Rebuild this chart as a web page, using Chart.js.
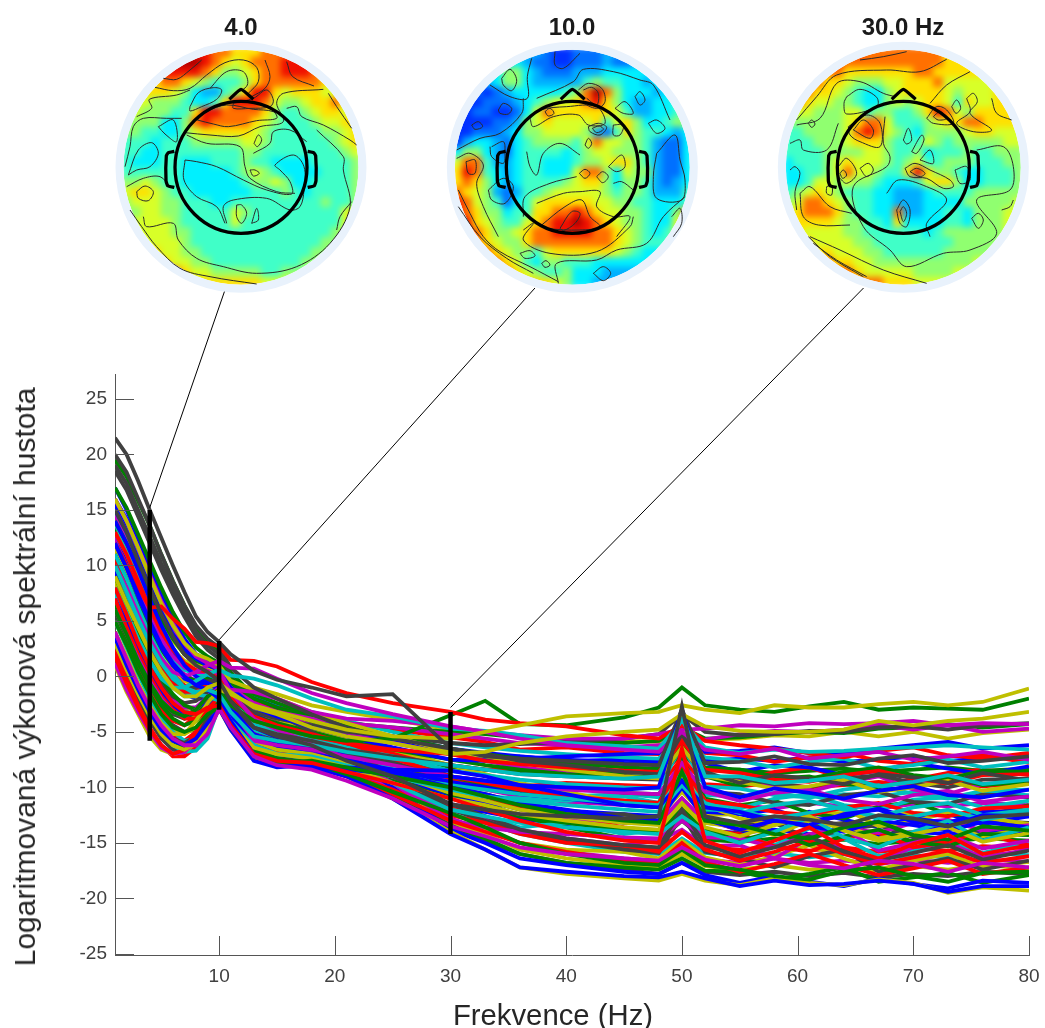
<!DOCTYPE html>
<html>
<head>
<meta charset="utf-8">
<title>Spektrum</title>
<script src="https://cdn.jsdelivr.net/npm/chart.js@4/dist/chart.umd.min.js"></script>
<style>
  html, body { margin: 0; padding: 0; background: #fff; }
  #page { position: relative; width: 1045px; height: 1028px; overflow: hidden; font-family: "Liberation Sans", Arial, sans-serif; }
  #mainChart { position: absolute; left: 0; top: 0; }
  .topo { position: absolute; top: 10px; width: 265px; height: 290px; }
  .topo canvas { position: absolute; left: 0; top: 0; }
  .heat { position: absolute; left: 0; top: 0; width: 265px; height: 290px; }
  .heat canvas { filter: blur(3px); }
  .mapTitle { position: absolute; top: 13px; width: 160px; text-align: center; font-weight: bold; font-size: 24px; line-height: 28px; color: #1a1a1a; }
  #xTitle { position: absolute; left: 353px; top: 998px; width: 400px; text-align: center; font-size: 29.3px; line-height: 34px; color: #262626; }
  #yTitle { position: absolute; left: 25px; top: 677px; white-space: nowrap; font-size: 30px; color: #262626; transform: translate(-50%, -50%) rotate(-90deg); }
</style>
</head>
<body>
<div id="page">
  <canvas id="mainChart" width="1045" height="1028"></canvas>
  <div class="mapTitle" style="left:161px">4.0</div>
  <div class="mapTitle" style="left:492px">10.0</div>
  <div class="mapTitle" style="left:823px">30.0 Hz</div>
  <div id="xTitle">Frekvence (Hz)</div>
  <div id="yTitle">Logaritmovaná výkonová spektrální hustota</div>
</div>
<script>
/* DATA */
const xTickValues = [10, 20, 30, 40, 50, 60, 70, 80];
const yTickValues = [-25, -20, -15, -10, -5, 0, 5, 10, 15, 20, 25];
const freqs = [1,2,3,4,5,6,7,8,9,10,11,13,15,18,21,25,30,33,36,40,45,48,50,52,55,58,61,64,67,70,73,76,80];

const s01 = [13,10.8,8.2,5.8,3.6,2,0.8,0.2,0,-0.5,-2.2,-4.6,-5.5,-6.4,-7.4,-8.6,-11,-11.4,-11.8,-12.1,-12.4,-12.6,-9.6,-12.2,-12.4,-13.2,-12.2,-12.9,-13.6,-12.7,-12.4,-13.3,-12.6];
const s02 = [19.5,18,15.8,13.6,11,8.6,6.4,4.4,3,2.2,0.4,-1.8,-2.8,-4.2,-5.4,-6.9,-9,-9.8,-10.4,-11,-11.2,-11.4,-7.5,-11,-11.6,-11.2,-12.3,-12.8,-11.7,-11.3,-12.4,-12.6,-11.6];
const s03 = [5,2.8,0.4,-1.6,-3,-4,-4.4,-3.6,-2.2,-1.4,-2.6,-4.4,-4.8,-5.4,-6.2,-6.9,-8,-8.4,-8.2,-8.8,-9,-9.1,-7,-8.9,-9.4,-8.6,-8.2,-9.2,-9.8,-9.3,-8.7,-8.4,-8.9];
const s04 = [10,7.8,5.2,3,1,-0.4,-1.4,-1.8,-1.6,-1.8,-3.6,-5.8,-6.4,-7,-8,-9.4,-12,-12.6,-13.6,-13.2,-14.2,-13.8,-12.5,-14.2,-14.4,-15.2,-13.7,-14.6,-16.2,-15.6,-14.8,-15.9,-15];
const s05 = [15,13,10.8,8.4,6,4,2.6,1.8,1.4,0.9,-0.6,-2.6,-3.4,-4.4,-5.2,-6,-7,-7.6,-8.2,-8.6,-9,-9.2,-6.2,-9,-9.2,-9.9,-10.4,-9.6,-9,-10.2,-10.6,-9.7,-9.4];
const s06 = [7,4.6,2.2,0,-1.8,-3,-3.6,-3.4,-2.4,-1.9,-3.6,-6,-6.8,-7.2,-8.2,-10,-13,-13.8,-15,-15.6,-15.8,-16.4,-14.8,-16.3,-17,-16.2,-15.2,-16.4,-17.4,-16.6,-16,-17.2,-16.7];
const s07 = [18.5,16.8,14.4,12,9.6,7.4,5.4,3.6,2.4,1.6,-0.4,-2.8,-3.6,-4.8,-6,-7.6,-10,-10.6,-11.4,-12.4,-12.4,-13,-9,-12.8,-13.9,-13.2,-14.6,-13.8,-13.4,-14.5,-14.9,-13.7,-13.5];
const s08 = [16,14.2,12,9.6,7.2,5,3.2,2,1.5,1,-0.4,-1.8,-2.6,-3.8,-4.6,-5.4,-6.5,-6.9,-7.2,-7.5,-7.8,-7.9,-5.6,-7.8,-8.6,-8,-8.2,-8.9,-8.5,-7.8,-8.3,-8.8,-8.1];
const s09 = [3,0.6,-1.6,-3.6,-5,-6,-6.4,-5.8,-4.4,-2.9,-4.6,-7.2,-7.9,-7.8,-9,-10.8,-13.5,-14.6,-16,-16.8,-17.2,-17.4,-16.4,-17.5,-17.6,-18.3,-17.8,-17.2,-18.5,-18.1,-17.7,-18.6,-17.9];
const s10 = [9,7,4.6,2.6,0.8,-0.6,-1.4,-1.4,-0.6,-0.2,-1,-2.2,-2.8,-3.6,-4.2,-4.8,-5.5,-5.9,-6.6,-6.4,-6.9,-7,-5,-6.9,-7.1,-7.7,-7.3,-6.9,-7.6,-7.9,-7.2,-7.1,-7.8];
const s11 = [12,9.8,7.4,5,3,1.6,0.6,0.2,0.2,-0.3,-2,-4.2,-5,-5.8,-7,-8.4,-10.5,-10.8,-11,-11.2,-10.8,-11.4,-8.4,-11.2,-11.9,-11,-10.6,-11.6,-12,-11.1,-10.9,-11.8,-11.2];
const s12 = [2,-0.6,-2.8,-4.8,-6.2,-7,-7,-6.4,-4.8,-3,-4.4,-6.6,-7.4,-7.6,-8.6,-10,-12,-12.8,-13.8,-14.6,-15.2,-14.8,-13.8,-15.3,-15.2,-16.4,-14.6,-15.5,-16.6,-15.4,-15,-16.3,-15.6];
const s13 = [14,12,9.6,7.2,5,3.2,2,1.2,0.9,0.4,-1.2,-3,-3.8,-5,-5.6,-6.6,-8,-8.8,-9.6,-10.4,-11.4,-11.8,-9,-11.6,-12.8,-13.4,-12.4,-11.9,-13.5,-13.1,-12.2,-12.7,-13.3];
const s14 = [6,3.6,1.4,-0.6,-2.2,-3.4,-3.8,-3.2,-2,-1.5,-3.2,-5.2,-5.8,-6.4,-7,-7.8,-9,-9.4,-10.2,-9.8,-10.5,-10.6,-8,-10.4,-10.6,-11.4,-11.6,-10.7,-10.4,-11.3,-11.5,-10.6,-10.9];
const s15 = [17,15,12.6,10.2,7.6,5.4,3.4,2,1.4,0.8,-1,-3.4,-4.4,-5.6,-7.2,-10,-13.8,-15,-16.4,-17,-17.6,-17.8,-16.8,-17.9,-18.6,-18,-18.5,-18.9,-18.2,-18.7,-19.1,-18.4,-18.6];
const s16 = [11,8.8,6.4,4.2,2.4,1,0,-0.4,-0.2,-0.6,-2,-3.6,-4.2,-5,-5.8,-6.6,-7.5,-8,-8.4,-8.8,-9,-9.1,-6.8,-9,-9.9,-9.2,-9,-9.7,-10,-9.4,-9.1,-9.8,-9.5];
const s17 = [4,1.6,-0.8,-2.8,-4.4,-5.4,-5.8,-5,-3.4,-2.2,-4,-6.2,-6.8,-7,-7.8,-8.8,-10,-10.8,-11.8,-12.6,-13.6,-14,-11.4,-13.8,-14.2,-15.3,-15.8,-14.6,-14.1,-15.4,-14.9,-14.2,-15.2];
const s18 = [15,13,10.6,8.2,5.8,3.8,2.2,1.4,1,0.7,-0.6,-1.6,-2.4,-3.2,-4,-5,-6,-6.4,-6.7,-7,-7.3,-7.4,-5.6,-7.3,-7.6,-8.2,-7.7,-7.4,-8.3,-8,-7.5,-8.2,-7.7];
const s19 = [8,5.6,3.2,1.2,-0.6,-2,-2.8,-2.8,-1.8,-1.2,-3,-5.2,-6,-6.8,-7.6,-9.2,-11.5,-12,-12.4,-12.8,-13.1,-13.2,-11,-13,-13.8,-13,-12.6,-13.6,-14.1,-13.2,-12.9,-13.9,-13.4];
const s20 = [13,11,8.6,6.2,4,2.4,1.4,1,0.9,0.6,-0.8,-1,-1.6,-2.6,-3.2,-3.9,-4.8,-5,-5.4,-5.6,-5.8,-5.9,-5,-5.7,-5.6,-5.3,-5.4,-5,-5.4,-5,-5.6,-5.1,-4.8];
const s21 = [19,17.4,15,12.6,10.2,8,5.8,4,2.8,2,0,-2.4,-3.4,-5,-6.6,-8.8,-12,-13,-14,-14.8,-15.6,-15.9,-12.5,-15.8,-16.4,-17.2,-16.2,-15.6,-17.6,-17,-16.4,-17.4,-16.6];
const s22 = [7,4.8,2.4,0.4,-1.4,-2.6,-3.4,-3.2,-2.4,-2,-3.8,-5.8,-6.4,-7,-7.6,-8.4,-9.5,-10,-10.6,-11,-11.6,-11.8,-9.6,-11.7,-12.4,-12,-13,-12.6,-11.9,-12.8,-13.2,-12.2,-12.1];
const s23 = [14,12,9.8,7.4,5.2,3.4,2,1.4,1,0.6,-0.6,-2,-2.8,-3.6,-4.2,-4.6,-5,-5.2,-5.5,-5.8,-6,-5.8,-4.6,-5.6,-5.5,-5.2,-5,-5.1,-4.7,-4.6,-4.3,-4.6,-4.3];
const s24 = [2.4,-0.2,-2.6,-4.6,-6.2,-7.2,-7.2,-6.4,-4.8,-2.8,-4.4,-7,-7.6,-7.8,-8.8,-10.2,-12.5,-13.2,-14.2,-15,-15.2,-15.8,-14,-15.6,-16.6,-15.8,-14.8,-16,-16.9,-16.3,-15.7,-16.8,-16.2];
const s25 = [9,6.8,4.4,2.2,0.4,-1,-1.8,-1.8,-1.2,-1.4,-2.8,-4.4,-5,-5.6,-6.4,-7.2,-8.5,-8.9,-9.3,-9.7,-10,-10.1,-6.2,-9.9,-10.1,-10.7,-10.9,-10.2,-9.8,-10.6,-11,-10.3,-10.2];
const s26 = [12,10,7.6,5.4,3.4,1.8,0.8,0.4,0.4,0.2,-1,-2.4,-3.2,-3.8,-4.2,-4.6,-5.2,-5.6,-6,-6.2,-6.4,-6.2,-5.6,-5.7,-5.2,-4.9,-5,-4.8,-4.4,-4.8,-4.4,-5,-4.7];
const s27 = [5,2.6,0.2,-1.8,-3.6,-4.8,-5.2,-4.6,-3.2,-2.4,-3.8,-5.8,-6.6,-7,-7.8,-8.8,-10.5,-11.2,-12,-12.6,-13.2,-13.4,-11.8,-13.2,-13.6,-14.3,-13,-13.4,-14.6,-14,-13.5,-14.4,-13.7];
const s28 = [10,7.8,5.4,3.2,1.2,-0.2,-1,-1,-0.4,-0.4,-1.8,-3.2,-3.8,-4.4,-5,-5.4,-6,-6.2,-6.1,-5.9,-5.6,-5.2,-3.4,-5,-5.3,-5.2,-4.9,-5,-4.6,-4.5,-4.8,-4.4,-4.2];
const s29 = [15,13,10.6,8.2,5.8,3.8,2.4,1.6,1,0.6,-1,-2.8,-3.6,-4.6,-5.4,-6.4,-7.5,-7.6,-7.4,-7.2,-7,-6.9,-4,-6.8,-6.7,-6.4,-6.9,-7,-6.5,-6.2,-5.9,-6.5,-6.2];
const s30 = [6,3.6,1.2,-0.8,-2.6,-3.8,-4.4,-4,-2.8,-2.3,-4,-6.4,-7.2,-7.4,-8.2,-9.4,-11,-11.8,-12.6,-13.2,-13.8,-14,-12,-13.8,-14.8,-14,-15.2,-14.4,-13.8,-14.9,-15.3,-14.2,-14.3];
const s31 = [13,11,8.6,6.2,4,2.4,1.2,0.6,0.4,-0.2,-1.8,-3.6,-4.4,-5.2,-6,-7.4,-9,-9.6,-10.2,-10.8,-11.2,-11.4,-8,-11.2,-11.6,-12.2,-12.5,-11.8,-11.4,-12.3,-12.6,-11.9,-11.7];
const s32 = [3,0.8,-1.4,-3.4,-5,-6.2,-6.8,-6.7,-5.6,-2.7,-4.6,-6.8,-7.6,-7.6,-8.2,-9,-9.8,-10.2,-10.6,-11,-11.4,-11.6,-9.4,-11.4,-12.3,-11.6,-11.2,-12,-12.6,-11.8,-11.4,-12.5,-12];
const s33 = [16,14,11.6,9.2,6.8,4.8,3,1.8,1.2,0.6,-1.4,-3.8,-4.8,-6,-7.4,-9.6,-13,-13.6,-14,-14.2,-14.5,-14.6,-13,-14.5,-14.6,-15.4,-14.2,-13.7,-15.7,-15,-14.3,-15.5,-14.8];
const s34 = [1,-1.4,-3.4,-5.4,-6.6,-7,-6.8,-6,-4.6,-2.9,-4.8,-7.4,-8,-7.9,-9,-11,-14,-15.6,-17.2,-17.8,-18.2,-18.4,-17.8,-18.4,-18.8,-18.2,-18.6,-18.8,-18.3,-18.6,-19.5,-19,-19.3];
const s35 = [8,5.6,3.2,1.2,-0.6,-1.8,-2.4,-2.2,-1.4,-1.2,-2.8,-4.6,-5.2,-5.8,-6.6,-7.2,-8,-8.4,-8.8,-9,-9.2,-9.3,-6.4,-9.1,-9.1,-9.7,-10,-9.2,-8.9,-9.6,-10,-9.3,-9.2];
const s36 = [12,9.8,7.2,4.8,2.6,1,-0.2,-0.6,-0.6,-1,-2.8,-5.2,-6,-6.6,-7.4,-8.6,-10,-10.6,-11.4,-12,-12.8,-13,-10,-12.9,-13.8,-13,-13.5,-14,-13,-13.4,-13.9,-13.1,-13.6];
const s37 = [17,15.2,12.8,10.4,8,5.8,4,2.6,1.8,1.2,-0.2,-1.6,-2.4,-3.4,-4.4,-5.4,-6.5,-7,-7.4,-7.8,-8.2,-8.3,-6,-8.2,-8.4,-9,-9.2,-8.6,-8.2,-8.9,-9.2,-8.5,-8.6];
const s38 = [7,4.4,2,0,-1.8,-3,-3.8,-3.8,-3,-2.7,-4.6,-7.2,-7.9,-8,-9,-10.6,-13,-14,-15,-15.8,-16.6,-16.8,-15,-16.7,-17.6,-16.9,-16,-17,-17.9,-17.3,-16.6,-17.8,-17.2];
const s39 = [5,2.6,0.2,-2,-3.8,-5,-5.8,-5.6,-4.4,-2.6,-4.2,-6.2,-7,-7.2,-8,-9,-10.2,-10.8,-11.2,-11.6,-12,-12.2,-9.8,-12,-12.1,-12.8,-12.3,-11.7,-12.9,-12.6,-12,-12.9,-12.3];
const s40 = [1.2,-1.2,-3.2,-5,-6.4,-7,-6.8,-5.8,-4.2,-2.6,-3.8,-5.8,-6.2,-6.6,-7.2,-8,-9,-9.4,-9.8,-10.2,-10.5,-10.6,-7.8,-10.4,-11.2,-10.5,-10.2,-11.1,-11.5,-10.7,-10.3,-11.3,-10.8];
const s41 = [16,14,11.6,9,6.6,4.6,3,2,1.6,1,-0.4,-1.2,-2,-3.2,-4.2,-5.4,-6.8,-7.2,-7.8,-8.4,-9,-9.2,-6.4,-9,-9.5,-10.1,-9.9,-9.3,-10.4,-10,-9.4,-10.3,-9.7];
const s42 = [4,1.4,-1,-3,-4.6,-5.6,-6,-5.4,-3.8,-2.5,-4.2,-6.8,-7.4,-7.6,-8.4,-9.6,-11.5,-12.6,-13.8,-14.6,-15.2,-15.4,-12,-15.2,-16.2,-15.4,-14.4,-15.8,-16.6,-15.9,-15.2,-16.5,-15.7];
const s43 = [14,12,9.6,7,4.6,2.6,1,0,-0.6,-1.2,-3.4,-6.4,-7.6,-8.2,-9,-11,-14.2,-15.6,-17.2,-17.6,-18,-18.1,-17.6,-18.2,-18.9,-18.4,-18.8,-18.7,-18.4,-18.7,-19.4,-18.9,-18.9];
const s44 = [9,6.6,4,1.8,-0.2,-1.6,-2.6,-3,-2.8,-2.6,-4.4,-6.6,-7.4,-7.8,-8.8,-10.4,-12.3,-13.6,-15,-16,-16.8,-17,-15.6,-17,-17.4,-18,-18.3,-17.5,-17.2,-18,-18.5,-17.7,-17.6];
const s45 = [1.8,-0.6,-2.8,-4.8,-6.2,-7,-6.6,-5,-3,-1.8,-2.6,-4,-4.6,-5.4,-6,-6.6,-7,-7.6,-7.9,-8.2,-8.5,-8.6,-5.8,-8.4,-8.7,-9.3,-9.5,-8.9,-8.5,-9.2,-9.6,-8.9,-8.8];
const s46 = [11,8.8,6.2,3.8,1.8,0.2,-1,-1.6,-1.8,-2.2,-4,-6.2,-7,-7.4,-8.2,-9.6,-12,-12.6,-13.2,-13.6,-14,-14.2,-12.6,-14,-15,-14,-12.7,-14.5,-15.4,-14,-13,-14.8,-13.6];
const s47 = [6,3.8,1.6,-0.4,-2,-3.2,-3.6,-3,-1.8,-1,-1.2,-1.4,-2,-3.2,-3.8,-4,-4.5,-5,-5.3,-5.6,-5.6,-5.2,-4.8,-4.7,-4.4,-4.5,-4.2,-4.3,-4.2,-4,-4.4,-4.2,-4.3];
const s48 = [3,0.6,-1.6,-3.6,-5.2,-6.2,-6.6,-6,-4.4,-2.8,-4.2,-6.4,-7,-7.4,-8.2,-9.6,-11,-11.6,-12.4,-13,-13.6,-13.8,-11.4,-13.6,-14.4,-13.4,-12.6,-13.9,-14.8,-14.2,-13.6,-14.9,-14.1];
const s49 = [20,18.4,16,13.6,11,8.6,6.4,4.6,3.4,2.6,0.8,-1,-2,-3.4,-4.6,-5.6,-6.5,-7,-7.6,-8,-8.6,-8.8,-5.2,-8.6,-9.6,-8.9,-9.2,-9.7,-8.8,-9.1,-9.6,-8.7,-9.4];
const s50 = [3.5,1,-1.2,-3.2,-4.8,-5.8,-6.2,-5.6,-4.2,-2.9,-4.8,-7.6,-8.2,-8,-8.2,-8.4,-8.5,-9,-9.8,-10.6,-11.6,-11.8,-9.4,-11.8,-12.2,-13,-13.4,-12.4,-12,-13.1,-13.5,-12.5,-12.6];
const s51 = [6,3.8,1.4,-0.6,-2.2,-3.2,-3.6,-3,-1.8,-1.2,-2.6,-4,-4.6,-5.4,-5.8,-5.6,-3.5,-2.2,-4.3,-4.4,-3.7,-2.8,-1,-2.6,-3,-3.2,-2.7,-2.3,-3,-2.8,-2.9,-3,-2];
const s52 = [12,10,8,6.2,6.3,5.2,4.3,3.1,3,2.7,1.5,1.4,0.9,-0.5,-1.5,-2.4,-3.2,-3.9,-4.2,-4.5,-5.3,-5.6,-4.4,-5.8,-6.2,-6.5,-6.9,-7.3,-6.7,-6.4,-7.1,-7.4,-6.9];
const s53 = [8,5.8,3.4,1.4,-0.2,-1,-1,-0.4,0.2,0.6,0.1,-0.2,-0.8,-2,-3,-3.6,-4.7,-4.9,-5.3,-6,-6.3,-6.5,-4,-6.4,-6.9,-6.6,-6.8,-6.7,-6.5,-6.4,-6.2,-6.4,-6.6];
const s54 = [10,8,5.6,3.4,1.6,0.4,0,0.4,1,1.4,0.8,0.7,-0.2,-1.5,-2.4,-3.4,-4.5,-5,-5.6,-6.2,-6.6,-6.8,-5,-6.6,-7,-6.5,-7.4,-7.1,-6.8,-7.5,-7.2,-6.8,-7.5];
const s55 = [4,1.8,-0.6,-2.6,-4.2,-5.2,-5.2,-4,-2.4,-1.2,-1.6,-2.6,-3.2,-4,-4.8,-5.4,-5.6,-5,-4.4,-3.6,-3.3,-3.2,-2.6,-3,-3.3,-2.6,-2.8,-2.8,-2.5,-2.3,-2.6,-2.3,-1.1];
const s56 = [21.5,20,17.6,15,12.5,10,7.6,5.4,4,3.1,2,0.5,-0.3,-1,-1.8,-1.6,-6.5,-7.2,-7.4,-7.6,-7.9,-8,-3,-7.8,-7.7,-7.2,-7.9,-8,-7.4,-7.1,-7.8,-7.6,-7.2];
const s57 = [12,9.8,7.4,5,2.8,1.2,0,-0.8,-1.2,-2,-4,-7,-7.8,-8.2,-8.4,-8.8,-9,-9.4,-9.8,-10,-10.2,-10,-3,-10,-10.9,-10.1,-10.5,-11,-10.3,-9.9,-10.7,-10.9,-10.2];
const s58 = [5,2.8,0.4,-1.6,-3.4,-4.6,-5,-4.6,-3.4,-2.8,-4.6,-7.2,-7.8,-7.6,-8.2,-9,-10,-10.8,-11.6,-12.4,-13,-13.2,-8.6,-13,-13.4,-14.2,-14.6,-13.6,-13.1,-14.3,-14.7,-13.5,-13.9];
const s59 = [8,5.6,3,0.8,-1,-2.4,-3.2,-3.4,-2.8,-2.6,-4.4,-7,-7.6,-7.8,-8.6,-9.6,-11,-12,-13,-14,-14.8,-15,-6.5,-14.8,-15.9,-14.8,-13.6,-15.4,-16.4,-15.1,-14.3,-16,-15.2];
const s60 = [10,7.6,5.2,3,1.2,-0.2,-1,-1.4,-1.2,-1.6,-3.2,-5.4,-5.8,-6.2,-6.8,-7.4,-8,-8.4,-8.8,-9,-9.2,-9,-3.6,-9,-9,-9.6,-9.4,-9,-9.9,-9.5,-8.9,-9.7,-9.3];
const s61 = [4,1.6,-0.8,-2.8,-4.4,-5.6,-6.2,-6.2,-5.2,-2.9,-4.6,-7.2,-8,-8.4,-9.4,-11,-13.5,-14.4,-15.4,-16,-16.4,-16.6,-15.4,-16.5,-17.1,-16.4,-17,-17.3,-16.6,-16.9,-17.6,-16.8,-17.2];
const s62 = [9,6.6,4.4,2.2,0.4,-1,-1.8,-1.8,-1,-0.6,-1.4,-2.8,-3.4,-4.6,-5.4,-6,-7,-6.8,-6,-5.4,-5,-4.8,-3.4,-4.5,-4.9,-5,-5,-4.8,-4,-4.4,-4,-3.8,-3.2];
const s63 = [15,13,10.4,8,5.6,3.6,2,1,0.4,-0.4,-2.2,-4.6,-5.4,-6.2,-7.6,-9,-11.5,-12,-12.4,-12.6,-12.8,-12.6,-2.7,-12.6,-13.2,-12.6,-12.9,-13.4,-12.5,-12.8,-13.5,-12.7,-12.4];
// quieter channels, drawn first
const s64 = [15.5,13.4,11,8.8,6.4,4.4,2.8,1.6,1.2,0.8,-0.8,-2.2,-3,-4.2,-5,-5.8,-7,-7.3,-7.2,-7.6,-7.5,-7.7,-6,-7.6,-7.4,-7.6,-7.3,-7.7,-7.5,-7.2,-7.6,-7.4,-7.3];
const s65 = [13.2,11,8.4,6,3.8,2.2,1,0.4,0.2,0,-1.6,-3.2,-4,-4.8,-5.6,-6.8,-8.2,-8.4,-8.6,-8.4,-8.7,-8.6,-6.6,-8.5,-8.4,-8.7,-8.5,-8.3,-8.6,-8.4,-8.2,-8.5,-8.3];
const s66 = [10.5,8.2,5.8,3.6,1.6,0.2,-0.8,-1.2,-1.2,-1.4,-3,-4.8,-5.4,-6,-6.8,-7.8,-9.4,-9.6,-9.9,-9.6,-9.8,-9.9,-7.4,-9.7,-9.9,-9.6,-10,-9.8,-9.5,-9.8,-9.6,-9.9,-9.6];
const s67 = [7.5,5,2.6,0.6,-1.2,-2.4,-3,-2.8,-2,-1.6,-3.4,-5.4,-6,-6.6,-7.2,-8.2,-9.8,-10.1,-10.5,-10.8,-10.6,-10.9,-9,-10.7,-10.8,-10.5,-10.9,-10.6,-10.8,-10.4,-10.8,-10.5,-10.7];
const s68 = [14.5,12.4,10,7.6,5.4,3.4,2,1,0.6,0.2,-1.4,-3.4,-4.2,-5,-6,-7.2,-9.6,-10.2,-10.8,-11.3,-11.6,-11.7,-9.8,-11.5,-11.6,-11.9,-11.4,-11.7,-11.9,-11.5,-11.7,-11.4,-11.6];
const s69 = [11.5,9.2,6.8,4.6,2.4,0.8,-0.4,-0.8,-0.8,-1.2,-2.8,-5,-5.8,-6.6,-7.4,-8.8,-10.8,-11.2,-11.8,-12.2,-12.5,-12.6,-10.4,-12.5,-12.4,-12.7,-12.5,-12.3,-12.6,-12.3,-12.5,-12.2,-12.4];
const s70 = [2.8,0.2,-2,-4,-5.6,-6.6,-6.8,-6.2,-4.6,-2.6,-4,-6,-6.8,-7.2,-7.8,-9,-10.6,-11.2,-12,-12.6,-13.2,-13.2,-11,-13.2,-13.4,-13.1,-13.5,-13.2,-13.4,-13.1,-13.3,-13,-13.2];
const s71 = [9.5,7.2,4.8,2.6,0.6,-0.8,-1.6,-2,-2,-2.2,-4,-6,-6.8,-7.4,-8.2,-9.8,-11.8,-12.2,-12.8,-13.4,-13.8,-14,-12,-13.9,-14.1,-13.8,-14.2,-13.9,-14.3,-14,-14.2,-13.9,-14.1];
const s72 = [6.5,4,1.8,-0.2,-2,-3.2,-3.8,-3.6,-2.6,-2.1,-3.8,-6,-6.8,-7.2,-8,-9,-10.8,-11.4,-12.6,-13.6,-14.6,-14.8,-13,-14.7,-14.9,-14.6,-15,-14.7,-15.1,-14.8,-14.9,-14.6,-14.8];
const s73 = [3.8,1.2,-1,-3,-4.8,-5.8,-6,-5.2,-3.6,-2.4,-4,-6.4,-7.2,-7.4,-8.4,-9.8,-11.8,-12.8,-14,-14.8,-15.4,-15.6,-14,-15.4,-15.6,-15.3,-15.7,-15.4,-15.8,-15.5,-15.7,-15.3,-15.5];
const s74 = [13.8,11.6,9.2,6.8,4.4,2.6,1.2,0.4,0,-0.6,-2.4,-4.8,-5.8,-6.6,-7.8,-9.6,-12.4,-13.2,-14.2,-15,-15.8,-16,-14.6,-15.9,-16.2,-15.9,-16.3,-16,-16.4,-16.1,-16.3,-15.9,-16.1];
const s75 = [12.5,10.2,7.8,5.2,3,1.4,0.2,-0.4,-0.6,-1,-2.8,-5.4,-6.4,-7,-8.2,-10,-12.8,-13.8,-15,-15.8,-16.4,-16.6,-15.4,-16.5,-16.8,-16.4,-16.8,-16.6,-16.9,-16.5,-16.8,-16.5,-16.7];
const s76 = [8.5,6,3.6,1.4,-0.4,-1.8,-2.8,-3,-2.6,-2.4,-4.2,-6.6,-7.4,-7.6,-8.6,-10.2,-13.2,-14.2,-15.6,-16.4,-17,-17.2,-16,-17.1,-17.4,-17,-17.4,-17.2,-17.5,-17.1,-17.4,-17,-17.3];
const s77 = [5.5,3,0.6,-1.4,-3.2,-4.4,-5,-4.8,-3.6,-2.7,-4.4,-7,-7.8,-7.8,-8.8,-10.6,-13.4,-14.8,-16,-16.8,-17.4,-17.8,-16.8,-17.6,-17.9,-17.6,-18,-17.7,-18.1,-17.8,-18,-17.6,-17.8];

const allChannels = [s64,s65,s66,s67,s68,s69,s70,s71,s72,s73,s74,s75,s76,s77,s01,s02,s03,s04,s05,s06,s07,s08,s09,s10,s11,s12,s13,s14,s15,s16,s17,s18,s19,s20,s21,s22,s23,s24,s25,s26,s27,s28,s29,s30,s31,s32,s33,s34,s35,s36,s37,s38,s39,s40,s41,s42,s43,s44,s45,s46,s47,s48,s49,s50,s51,s52,s53,s54,s55,s56,s57,s58,s59,s60,s61,s62,s63];

// black bars at the three picked frequencies
const markFreqs = [4, 10, 30];
const markTops = [15, 3.2, -3.2];
const markBottoms = [-5.8, -3, -14.2];
// thin lines going up to the maps: [freq, value] at both ends
const linkStarts = [[4, 15.2], [10, 3.3], [30, -2.8]];
const linkEnds = [[10.5, 34.8], [37.3, 35], [65.7, 35]];

const lineColors = ["#0000ff", "#008000", "#ff0000", "#00bfbf", "#bf00bf", "#bfbf00", "#404040"];
const heatColors = ["#0030ff", "#0070ff", "#00b0ff", "#00f0ff", "#40ffc8", "#90ff70", "#d8ff28", "#ffe000", "#ff7000", "#f01000", "#b00000"];

/* MAPS: one digit per cell, 0 = blue ... a = dark red */
const rows4 = [
  "777788999887778888888777","77789aaa9876788899987777","777799998755678899987766",
  "667788765444578888887666","667776532245799767776655","666555433479998655677865",
  "665554479988887544567766","555533589888876544456677","554433567777765444445567",
  "444344455555665444444567","443344444444554444444456","433344333444544333344445",
  "444444333334565433334445","556544333333455653344445","677654433333344454344445",
  "566655444334444444445445","556655444446544444444467","666665444446444444444468",
  "666665544444444444444567","776666544444444444445566","777766554444444444455566",
  "777776655444444444555666","777788766555554455566666","777788877777776666666666"
];
const rows10 = [
  "111112222100111222222333","111122321100111211223334","112235532111222333333344",
  "111235532222245443323444","11101233333458a853332345","100111234566789753223345",
  "001100136877777764223345","000011256766667467533455","001112355666652147544323",
  "023321345555468665542113","355321344443456655542113","688422344333455677542113",
  "798432344333688536552113","787532344445677535542123","876521244566666545542224",
  "986541346777776655443334","987553447788987665543358","997654467899a98765543369",
  "998755678899998876543468","998765578888888876544456","999876554677777765433445",
  "aaa987643554443333333344","aaaaa8765445333222233334","aaaaaa877765332222333334"
];
const rows30 = [
  "999999998888888877777777","999999888888888877777666","999888777777788777776666",
  "998877655566777866666666","988776543356777765666766","887665543356567764766776",
  "766555664554457986577777","555555678864445677887777","445555689865435555677666",
  "444555677754446545555566","444455556654453444544555","344456766654564455544455",
  "334456866544797554334445","334665655433346775334445","456765444332223444455555",
  "568876544332223333555556","678887544338223344355566","677776554437333344355567",
  "776666554444443455555567","887666655444444445555566","998776665544444455555666",
  "a99987766555555555566666","aaaa99876666655556666666","aaaaaa998877766666666666"
];

const lines4 = [
  [[160,205],[200,208],[240,180],[275,150]],
  [[135,232],[190,242],[240,235],[290,195],[345,158],[400,150],[440,172],[445,215],[415,250]],
  [[300,235],[350,185],[400,185],[412,225],[370,255]],
  [[240,290],[265,248],[310,233],[335,240],[320,268],[275,290],[240,303],[240,290]],
  [[80,320],[125,295],[118,268],[200,255],[240,240]],
  [[530,155],[548,200],[612,228]],
  [[465,150],[480,200],[465,235],[425,260]],
  [[370,280],[430,265],[470,240],[490,270],[480,290],[420,295],[370,295],[370,280]],
  [[262,330],[290,305],[350,285],[430,298],[490,305],[500,325],[440,332],[355,350],[310,342],[262,330]],
  [[225,368],[300,375],[385,378],[450,350],[520,335],[500,280],[520,250],[640,238]],
  [[530,295],[560,290],[575,320],[640,345],[720,390],[740,405]],
  [[655,250],[680,290],[725,355]],
  [[145,350],[190,330],[200,395],[165,372],[145,350]],
  [[45,470],[60,410],[70,350],[100,325],[170,325],[215,325]],
  [[55,495],[85,420],[125,398],[145,430],[120,470],[80,480],[55,495]],
  [[432,400],[445,375],[455,390],[442,410],[432,400]],
  [[225,450],[260,455],[320,470],[400,510],[470,540],[545,552],[540,515],[510,480],[495,465],[550,435],[582,470],[582,540],[570,590],[540,600],[470,565],[370,570],[340,590],[350,640]],
  [[225,450],[222,510],[260,560],[320,590],[345,640]],
  [[420,480],[435,480],[448,490],[430,498],[420,480]],
  [[380,585],[395,585],[410,610],[395,640],[380,620],[380,585]],
  [[425,640],[440,595],[445,630],[425,640]],
  [[80,545],[105,528],[130,545],[115,572],[85,565],[80,545]],
  [[50,530],[100,505],[150,500],[180,530]],
  [[100,620],[110,650],[190,640],[205,690],[260,745],[340,770],[440,790],[560,770],[660,700],[720,590],[700,480],[700,440],[620,360]],
  [[60,600],[95,650],[140,710],[210,775],[300,800],[440,822]],
  [[725,575],[690,620],[680,660]],
  [[230,375],[290,400],[390,410],[405,470],[420,505],[500,545],[555,550]],
  [[430,430],[480,400],[490,365],[540,360],[590,395]]
];
const lines10 = [
  [[345,125],[345,165],[370,175],[420,130]],
  [[275,145],[262,200],[262,265],[210,260],[150,225]],
  [[185,205],[210,178],[230,210],[215,242],[190,225],[185,205]],
  [[175,300],[190,280],[215,295],[205,312],[180,310],[175,300]],
  [[95,345],[115,335],[128,350],[105,358],[95,345]],
  [[50,420],[120,385],[180,370],[245,310],[250,265]],
  [[290,265],[400,215],[430,178],[520,185],[600,210],[640,225],[690,330]],
  [[415,240],[445,220],[485,235],[495,275],[470,295],[420,275]],
  [[430,240],[455,232],[475,250],[470,285],[440,265]],
  [[315,305],[330,295],[342,310],[325,318],[315,305]],
  [[270,325],[300,300],[380,290],[470,290],[495,340],[445,345],[415,315],[340,320],[280,350],[270,325]],
  [[445,350],[475,340],[500,352],[480,375],[450,365],[445,350]],
  [[457,355],[478,348],[490,358],[470,368],[457,355]],
  [[520,345],[550,345],[540,375],[520,375],[520,345]],
  [[525,295],[555,275],[580,310],[550,310],[525,295]],
  [[585,260],[600,245],[615,270],[600,285],[585,260]],
  [[625,340],[650,330],[675,355],[650,370],[625,340]],
  [[435,405],[445,385],[455,400],[445,415],[435,405]],
  [[155,410],[190,395],[195,425],[190,460],[155,440],[150,410]],
  [[50,445],[90,430],[130,465],[110,520],[130,590],[175,680]],
  [[78,455],[105,450],[105,490],[85,490],[78,455]],
  [[145,540],[190,505],[220,530],[195,580],[155,570],[145,540]],
  [[260,425],[270,470],[290,495],[310,430],[360,400],[420,435]],
  [[505,470],[545,435],[555,470],[530,485],[505,470]],
  [[418,490],[435,478],[450,490],[435,505],[418,490]],
  [[470,500],[488,485],[505,500],[488,518],[470,500]],
  [[410,500],[330,520],[255,560],[250,620]],
  [[520,520],[545,515],[580,540]],
  [[650,430],[705,375],[720,450],[735,510],[725,570],[650,565],[640,500],[650,430]],
  [[290,580],[370,550],[420,545],[480,545],[470,590],[520,620],[570,620],[530,680]],
  [[305,645],[375,590],[425,570],[450,620],[480,650],[420,660],[320,655],[305,645]],
  [[360,655],[395,605],[420,610],[405,640],[370,662],[360,655]],
  [[250,660],[280,640],[250,690],[330,730],[470,725],[570,650],[580,620]],
  [[55,540],[90,610],[130,680],[180,725],[270,770],[355,815]],
  [[55,590],[120,680],[200,745],[280,790]],
  [[240,730],[270,722],[285,738],[255,745],[240,730]],
  [[305,760],[318,752],[330,765],[315,772],[305,760]],
  [[460,790],[490,770],[512,790],[490,812],[460,790]],
  [[355,820],[350,760],[470,750],[530,720],[620,700],[670,620],[735,560]],
  [[695,620],[720,595],[725,640],[700,680]]
];
const lines30 = [
  [[270,150],[340,140],[410,125]],
  [[80,330],[140,260],[200,195],[350,180],[450,185],[530,148]],
  [[80,345],[150,325],[200,220],[270,215],[340,250],[375,260]],
  [[230,260],[270,238],[320,262],[320,290],[230,312],[222,280],[230,260]],
  [[115,340],[125,330],[135,342],[125,352],[115,340]],
  [[480,280],[530,225],[600,185]],
  [[665,265],[680,310],[725,330]],
  [[545,290],[560,270],[572,295],[558,310],[545,290]],
  [[590,265],[610,250],[622,275],[600,310],[665,360],[610,365],[560,340],[600,305],[590,265]],
  [[470,325],[500,290],[530,300],[550,340],[490,340],[470,325]],
  [[490,320],[510,305],[530,325],[505,330],[490,320]],
  [[235,350],[290,315],[330,340],[330,410],[270,395],[240,375],[235,350]],
  [[250,360],[280,330],[310,360],[300,385],[250,360]],
  [[400,390],[415,355],[425,390],[410,402],[400,390]],
  [[425,425],[455,375],[462,390],[440,430],[425,425]],
  [[450,450],[480,420],[490,460],[450,450]],
  [[345,320],[340,400],[360,440],[350,470],[250,530],[280,650],[360,720],[410,770],[520,730],[600,720],[680,670],[620,570],[720,540],[730,470],[700,410],[620,420]],
  [[405,475],[435,460],[480,480],[540,510],[550,530],[520,535],[470,505],[420,500],[405,475]],
  [[420,485],[440,475],[465,490],[450,500],[420,485]],
  [[205,470],[230,445],[260,490],[230,520],[205,500]],
  [[210,490],[220,480],[230,495],[218,505],[210,490]],
  [[270,475],[295,460],[310,480],[290,500],[270,475]],
  [[60,480],[75,470],[90,490],[75,545],[80,600]],
  [[170,530],[185,525],[185,555],[170,550],[170,530]],
  [[90,550],[120,530],[180,590],[245,610]],
  [[90,550],[100,620],[145,645],[240,645]],
  [[350,550],[385,510],[470,530],[530,570],[470,640],[480,680]],
  [[380,600],[400,570],[420,600],[410,650],[390,640],[380,600]],
  [[390,605],[400,590],[410,610],[400,635],[390,605]],
  [[605,625],[625,610],[640,630],[625,655],[605,625]],
  [[555,480],[590,470],[600,510],[570,520],[555,480]],
  [[115,680],[180,740],[280,800]],
  [[130,700],[200,750],[290,800]],
  [[120,680],[210,720],[340,780],[470,820]],
  [[60,400],[90,390],[100,420],[170,420],[205,340]],
  [[695,600],[720,590],[730,570]]
];

// head drawing, offsets from the map centre
const noseShape = [[-35,-204],[0,-234],[37,-204]];
const leftEar = [[-200,-48],[-218,-44],[-224,-35],[-225,40],[-220,55],[-200,60]];
const rightEar = [[200,-48],[218,-44],[224,-35],[225,40],[220,55],[200,60]];

/* INWARD TICKS */
const inwardTicks = {
  id: "inwardTicks",
  afterDatasetsDraw(chart) {
    const c = chart.ctx, x = chart.scales.x, y = chart.scales.y, a = chart.chartArea;
    c.save();
    c.strokeStyle = "#555";
    c.lineWidth = 1;
    c.beginPath();
    x.ticks.forEach(t => {
      const p = Math.round(x.getPixelForValue(t.value)) + 0.5;
      c.moveTo(p, a.bottom);
      c.lineTo(p, a.bottom - 19);
    });
    y.ticks.forEach(t => {
      const p = Math.round(y.getPixelForValue(t.value)) + 0.5;
      c.moveTo(a.left, p);
      c.lineTo(a.left + 19, p);
    });
    c.stroke();
    c.restore();
  }
};

/* MAIN CHART */
const mainSets = [];
markFreqs.forEach((f, i) => {
  mainSets.push({
    data: [{ x: f, y: markTops[i] }, { x: f, y: markBottoms[i] }],
    showLine: true, borderColor: "#000", borderWidth: 4.5, pointRadius: 0, order: 0
  });
  mainSets.push({
    data: [{ x: linkStarts[i][0], y: linkStarts[i][1] }, { x: linkEnds[i][0], y: linkEnds[i][1] }],
    showLine: true, borderColor: "#000", borderWidth: 1, pointRadius: 0, order: 0, clip: false
  });
});
allChannels.forEach((vals, i) => {
  mainSets.push({
    data: vals.map((v, k) => ({ x: freqs[k], y: v })),
    showLine: true,
    borderColor: lineColors[i % lineColors.length],
    borderWidth: 3.8,
    pointRadius: 0,
    tension: 0,
    order: allChannels.length - i
  });
});

const tickFont = { family: "'Liberation Sans', Arial, sans-serif", size: 19 };

new Chart(document.getElementById("mainChart"), {
  type: "scatter",
  data: { datasets: mainSets },
  plugins: [inwardTicks],
  options: {
    responsive: false,
    animation: false,
    events: [],
    layout: { autoPadding: false, padding: { top: 374, right: 16, left: 0, bottom: 0 } },
    plugins: { legend: { display: false }, tooltip: { enabled: false } },
    scales: {
      x: {
        type: "linear", min: 1, max: 80,
        afterBuildTicks: s => { s.ticks = xTickValues.map(v => ({ value: v })); },
        afterFit: s => { s.height = 73; s.paddingLeft = 0; s.paddingRight = 0; },
        grid: { display: false, drawTicks: false },
        border: { display: true, color: "#555", width: 1 },
        ticks: { color: "#404040", font: tickFont, padding: 10, maxRotation: 0, callback: v => String(v) }
      },
      y: {
        type: "linear", min: -25.1, max: 27.25,
        afterBuildTicks: s => { s.ticks = yTickValues.map(v => ({ value: v })); },
        afterFit: s => { s.width = 115; },
        grid: { display: false, drawTicks: false },
        border: { display: true, color: "#555", width: 1 },
        ticks: { color: "#404040", font: tickFont, padding: 8, callback: v => String(v) }
      }
    }
  }
});

/* TOPO MAPS */
function makeTopo(left, cx, rows, lines) {
  const holder = document.createElement("div");
  holder.className = "topo";
  holder.style.left = left + "px";
  const heatBox = document.createElement("div");
  heatBox.className = "heat";
  heatBox.style.clipPath = `circle(117.5px at ${cx / 3}px ${472 / 3}px)`;
  const heatCanvas = document.createElement("canvas");
  const lineCanvas = document.createElement("canvas");
  [heatCanvas, lineCanvas].forEach(k => { k.width = 265; k.height = 290; });
  heatBox.appendChild(heatCanvas);
  holder.appendChild(heatBox);
  holder.appendChild(lineCanvas);
  document.getElementById("page").appendChild(holder);

  const cells = [], cellColors = [];
  rows.forEach((row, j) => {
    row.split("").forEach((ch, i) => {
      cells.push({ x: cx - 345 + 30 * i, y: 127 + 30 * j });
      cellColors.push(heatColors[parseInt(ch, 36)]);
    });
  });

  const makeOptions = () => ({
    responsive: false,
    animation: false,
    events: [],
    layout: { autoPadding: false, padding: 0 },
    plugins: { legend: { display: false }, tooltip: { enabled: false } },
    scales: {
      x: { type: "linear", min: 0, max: 795, display: false },
      y: { type: "linear", min: 0, max: 870, reverse: true, display: false }
    }
  });

  new Chart(heatCanvas, {
    type: "scatter",
    data: { datasets: [{
      data: cells, pointStyle: "rect", pointRadius: 7.6, pointBorderWidth: 0,
      pointBackgroundColor: cellColors
    }] },
    options: makeOptions()
  });

  const toPts = arr => arr.map(p => ({ x: p[0], y: p[1] }));
  const shift = arr => arr.map(p => ({ x: cx + p[0], y: 472 + p[1] }));
  const sets = [];
  const headLine = pts => ({
    data: pts, showLine: true, borderColor: "#000", borderWidth: 3.3, pointRadius: 0,
    tension: 0.15, order: 0
  });
  sets.push({
    data: [{ x: cx, y: 472 }], pointRadius: 66, pointBorderWidth: 3.3,
    pointBackgroundColor: "rgba(0,0,0,0)", pointBorderColor: "#000", order: 0
  });
  sets.push(headLine(shift(noseShape)), headLine(shift(leftEar)), headLine(shift(rightEar)));
  lines.forEach(l => {
    sets.push({
      data: toPts(l), showLine: true, borderColor: "#2a2a2a", borderWidth: 1,
      pointRadius: 0, tension: 0.35, order: 1
    });
  });
  sets.push({
    data: [{ x: cx, y: 472 }], pointRadius: 121.5, pointBorderWidth: 8,
    pointBackgroundColor: "rgba(0,0,0,0)", pointBorderColor: "#e9f2fc", order: 2
  });

  new Chart(lineCanvas, {
    type: "scatter",
    data: { datasets: sets },
    options: makeOptions()
  });
}

makeTopo(110, 393, rows4, lines4);
makeTopo(440, 397, rows10, lines10);
makeTopo(770, 400, rows30, lines30);
</script>
</body>
</html>
